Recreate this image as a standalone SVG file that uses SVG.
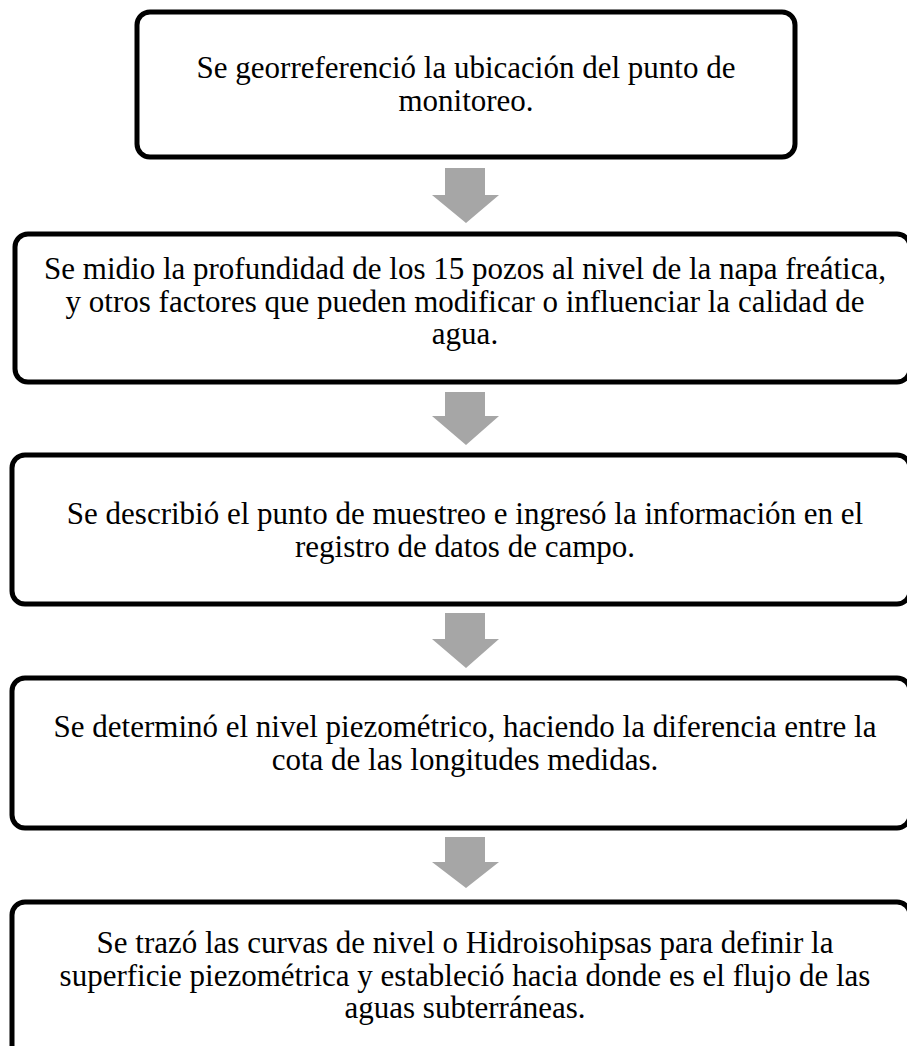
<svg xmlns="http://www.w3.org/2000/svg" width="907" height="1046" viewBox="0 0 907 1046">
<style>
.box{fill:#ffffff;stroke:#000000;stroke-width:5}
.t{font-family:"Liberation Serif","Times New Roman",serif;font-size:31px;fill:#000000;text-anchor:middle}
.arr{fill:#a6a6a6}
</style>
<rect width="907" height="1046" fill="#ffffff"/>
<g id="connectors">
<polygon class="arr" points="445,168 485,168 485,195 499,195 466,223 432,195 445,195"/>
<polygon class="arr" points="445,392 485,392 485,416 499,416 466,445 432,416 445,416"/>
<polygon class="arr" points="445,613 485,613 485,639 499,639 466,668 432,639 445,639"/>
<polygon class="arr" points="445,837 485,837 485,862 499,862 466,888 432,862 445,862"/>
</g>
<g id="node1">
<rect class="box" x="137" y="12" width="658" height="145" rx="13"/>
<text class="t" x="466" y="78">Se georreferenció la ubicación del punto de</text>
<text class="t" x="466" y="110.5">monitoreo.</text>
</g>
<g id="node2">
<rect class="box" x="15" y="234" width="895" height="148" rx="13"/>
<text class="t" x="465" y="279">Se midio la profundidad de los 15 pozos al nivel de la napa freática,</text>
<text class="t" x="465" y="311.5">y otros factores que pueden modificar o influenciar la calidad de</text>
<text class="t" x="465" y="344">agua.</text>
</g>
<g id="node3">
<rect class="box" x="12" y="455" width="898" height="149" rx="13"/>
<text class="t" x="465" y="524">Se describió el punto de muestreo e ingresó la información en el</text>
<text class="t" x="465" y="556.5">registro de datos de campo.</text>
</g>
<g id="node4">
<rect class="box" x="12" y="678" width="898" height="150" rx="13"/>
<text class="t" x="465" y="737">Se determinó el nivel piezométrico, haciendo la diferencia entre la</text>
<text class="t" x="465" y="769.5">cota de las longitudes medidas.</text>
</g>
<g id="node5">
<rect class="box" x="12" y="902" width="898" height="160" rx="13"/>
<text class="t" x="465" y="953">Se trazó las curvas de nivel o Hidroisohipsas para definir la</text>
<text class="t" x="465" y="985.5">superficie piezométrica y estableció hacia donde es el flujo de las</text>
<text class="t" x="465" y="1018">aguas subterráneas.</text>
</g>
</svg>
